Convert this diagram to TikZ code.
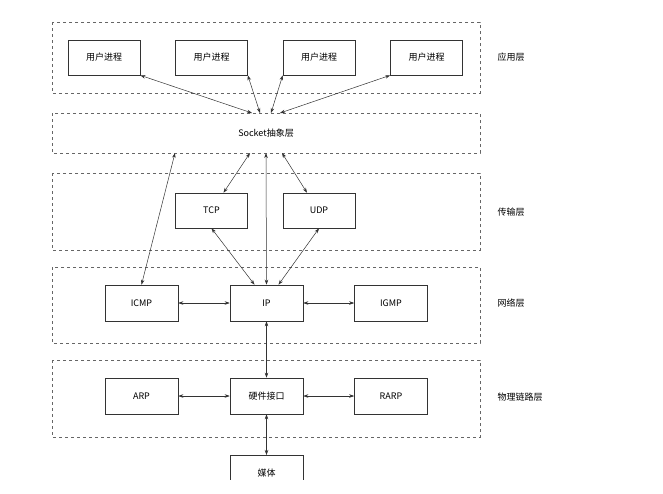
\documentclass[tikz,border=0pt]{standalone}
\usepackage{fontspec}
\setmainfont{Noto Sans CJK SC}
\usetikzlibrary{arrows.meta}
\begin{document}
\begin{tikzpicture}[x=1pt,y=-1pt,
  layer/.style={draw=black!60,dashed,line width=0.5pt},
  box/.style={draw=black!80,line width=0.6pt,fill=white,font=\fontsize{9}{10}\selectfont},
  lab/.style={font=\fontsize{9}{10}\selectfont},
  con/.style={<->,>={Stealth[length=5pt,width=3.5pt]},line width=0.5pt,black!80}]
\useasboundingbox (0,0) rectangle (663,493);
\clip (0,0) rectangle (663,479);
\fill[white] (0,0) rectangle (663,493);
% layers
\draw[layer] (52,22) rectangle (480,93);
\draw[layer] (52,113) rectangle (480,153);
\draw[layer] (52,173) rectangle (480,250);
\draw[layer] (52,267) rectangle (480,343);
\draw[layer] (52,360) rectangle (480,437);
\node[lab,anchor=west] (l1) at (494,57) {应用层};
\node[lab] (sock) at (266,133) {Socket抽象层};
\node[lab,anchor=west] (l3) at (494,212) {传输层};
\node[lab,anchor=west] (l4) at (494,303) {网络层};
\node[lab,anchor=west] (l5) at (494,397) {物理链路层};
% boxes
\node[box,minimum width=72pt,minimum height=35pt] (u1) at (104,57.5) {用户进程};
\node[box,minimum width=72pt,minimum height=35pt] (u2) at (211.5,57.5) {用户进程};
\node[box,minimum width=72pt,minimum height=35pt] (u3) at (319,57.5) {用户进程};
\node[box,minimum width=72pt,minimum height=35pt] (u4) at (426.5,57.5) {用户进程};
\node[box,minimum width=72pt,minimum height=35pt] (tcp) at (211.5,210.5) {TCP};
\node[box,minimum width=72pt,minimum height=35pt] (udp) at (319,210.5) {UDP};
\node[box,minimum width=73pt,minimum height=36pt] (icmp) at (141.5,303) {ICMP};
\node[box,minimum width=73pt,minimum height=36pt] (ip) at (266.5,303) {IP};
\node[box,minimum width=73pt,minimum height=36pt] (igmp) at (391,303) {IGMP};
\node[box,minimum width=73pt,minimum height=36pt] (arp) at (141.5,396) {ARP};
\node[box,minimum width=73pt,minimum height=36pt] (hw) at (266.5,396) {硬件接口};
\node[box,minimum width=73pt,minimum height=36pt] (rarp) at (391,396) {RARP};
\node[box,minimum width=73pt,minimum height=36pt,anchor=north] (media) at (266.5,455) {媒体};
% socket anchor coordinates
\coordinate (s1) at (252,113);
\coordinate (s2) at (260,113);
\coordinate (s3) at (271,113);
\coordinate (s4) at (280,113);
\coordinate (sa) at (175,153);
\coordinate (sb) at (250,153);
\coordinate (sc) at (266,153);
\coordinate (sd) at (282,153);
% connectors
\draw[con] (u1.south east) -- (s1);
\draw[con] (u2.south east) -- (s2);
\draw[con] (u3.south west) -- (s3);
\draw[con] (u4.south west) -- (s4);
\draw[con] (sa) -- (icmp.north);
\draw[con] (sb) -- ([xshift=12pt]tcp.north);
\draw[con] (sc) -- (ip.north);
\draw[con] (sd) -- ([xshift=-12pt]udp.north);
\draw[con] (tcp.south) -- ([xshift=-12pt]ip.north);
\draw[con] (udp.south) -- ([xshift=12pt]ip.north);
\draw[con] (icmp) -- (ip);
\draw[con] (ip) -- (igmp);
\draw[con] (ip) -- (hw);
\draw[con] (arp) -- (hw);
\draw[con] (hw) -- (rarp);
\draw[con] (hw) -- (media);
\end{tikzpicture}
\end{document}
